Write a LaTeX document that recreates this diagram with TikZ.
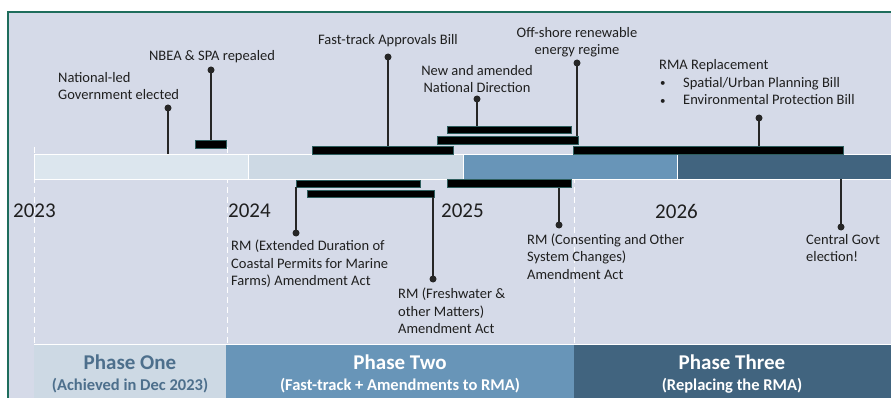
\documentclass[tikz,border=0pt]{standalone}
\usepackage{fontspec}
\setmainfont{Carlito}
\definecolor{paper}{HTML}{D5DAE8}
\definecolor{frame}{HTML}{1E6D5C}
\definecolor{segA}{HTML}{DCE6EE}
\definecolor{segB}{HTML}{CDD9E4}
\definecolor{segC}{HTML}{6895B8}
\definecolor{segD}{HTML}{41647F}
\definecolor{phaseink}{HTML}{4D6F8C}
\definecolor{stemc}{HTML}{262626}
\definecolor{barline}{HTML}{2E5E5E}
\definecolor{ink}{HTML}{1F1F1F}
\newcommand{\listdot}{\hspace*{1pt}\makebox[23pt][l]{\raisebox{0.5pt}{\fontsize{11}{11}\selectfont\textbullet}}}
\begin{document}
\begin{tikzpicture}[x=1pt,y=-1pt,
  seg/.style={draw=white, line width=0.8pt, inner sep=0, minimum height=25pt},
  bar/.style={draw=barline, fill=black, line width=0.6pt, inner sep=0},
  dot/.style={circle, fill=stemc, inner sep=0, minimum size=7pt},
  stem/.style={draw=stemc, line width=2pt},
  guide/.style={draw=white, line width=0.8pt, dash pattern=on 6pt off 4pt},
  lbl/.style={font=\fontsize{14.5}{17.5}\selectfont, text=ink, inner sep=0},
  year/.style={font=\fontsize{21}{24}\selectfont, text=ink, inner sep=0, anchor=west},
  phasebox/.style={inner sep=0, minimum height=53pt},
  phasetitle/.style={font=\bfseries\fontsize{21}{24}\selectfont, inner sep=0},
  phasesub/.style={font=\bfseries\fontsize{16.5}{19}\selectfont, inner sep=0}]

% page and frame
\useasboundingbox (0,0) rectangle (891,398);
\fill[white] (0,0) rectangle (891,398);
\fill[paper] (8,12) rectangle (891,398);
\draw[frame, line width=1.5pt] (8,398) -- (8,12) -- (891,12);

% year guides
\draw[guide] (34,147) -- (34,345);
\draw[guide] (227,147) -- (227,345);
\draw[guide] (574,147) -- (574,345);

% timeline band
\node[seg, fill=segA, minimum width=214pt] (seg1) at (141,166.5) {};
\node[seg, fill=segB, minimum width=215pt] (seg2) at (355.5,166.5) {};
\node[seg, fill=segC, minimum width=214pt] (seg3) at (570,166.5) {};
\node[seg, fill=segD, minimum width=214pt] (seg4) at (784,166.5) {};

% phase boxes
\node[phasebox, fill=segB, minimum width=192pt] (ph1) at (130,371.5) {};
\node[phasebox, fill=segC, minimum width=348pt] (ph2) at (400,371.5) {};
\node[phasebox, fill=segD, minimum width=317pt] (ph3) at (732.5,371.5) {};
\draw[white, line width=0.8pt] (ph1.north west) -- (ph3.north east);

\node[phasetitle, text=phaseink] (ph1t) at (130,362) {Phase One};
\node[phasesub, text=phaseink] (ph1s) at (130,385.5) {(Achieved in Dec 2023)};
\node[phasetitle, text=white] (ph2t) at (400,362) {Phase Two};
\node[phasesub, text=white] (ph2s) at (400,385.5) {(Fast-track + Amendments to RMA)};
\node[phasetitle, text=white] (ph3t) at (732,362) {Phase Three};
\node[phasesub, text=white] (ph3s) at (732,385.5) {(Replacing the RMA)};

% years
\node[year] (y23) at (13,211) {2023};
\node[year] (y24) at (228,211) {2024};
\node[year] (y25) at (441,211) {2025};
\node[year] (y26) at (655,211) {2026};

% duration bars above the band
\node[bar, minimum width=31pt, minimum height=8pt] (bNbea) at (210.5,144) {};
\node[bar, minimum width=141pt, minimum height=8pt] (bFast) at (382.5,150) {};
\node[bar, minimum width=124pt, minimum height=7pt] (bNat) at (509,129.5) {};
\node[bar, minimum width=141pt, minimum height=8pt] (bOff) at (507.5,140) {};
\node[bar, minimum width=270pt, minimum height=8pt] (bRma) at (708,150) {};

% duration bars below the band
\node[bar, minimum width=124pt, minimum height=7pt] (bCoast) at (358,183.5) {};
\node[bar, minimum width=127pt, minimum height=7pt] (bFresh) at (370.5,193.5) {};
\node[bar, minimum width=124pt, minimum height=8pt] (bCons) at (509,183.5) {};

% markers
\node[dot] (dGov) at (168,108) {};
\node[dot] (dNbea) at (211,70) {};
\node[dot] (dFast) at (388,57) {};
\node[dot] (dNat) at (477,99) {};
\node[dot] (dOff) at (577,63) {};
\node[dot] (dRma) at (759,118) {};
\node[dot] (dCoast) at (296,233) {};
\node[dot] (dFresh) at (433,279) {};
\node[dot] (dCons) at (559,225) {};
\node[dot] (dElec) at (841,227) {};

\draw[stem] (dGov.center) -- (dGov |- seg1.north);
\draw[stem] (dNbea.center) -- (dNbea |- bNbea.north);
\draw[stem] (dFast.center) -- (dFast |- bFast.north);
\draw[stem] (dNat.center) -- (dNat |- bNat.north);
\draw[stem] (dOff.center) -- (dOff |- bOff.north);
\draw[stem] (dRma.center) -- (dRma |- bRma.north);
\draw[stem] (dCoast.center) -- (dCoast |- bCoast.south);
\draw[stem] (dFresh.center) -- (dFresh |- bFresh.south);
\draw[stem] (dCons.center) -- (dCons |- bCons.south);
\draw[stem] (dElec.center) -- (dElec |- seg4.south);

% labels
\node[lbl, anchor=west, align=left] (tGov) at (58,86) {National-led\\Government elected};
\node[lbl] (tNbea) at (212,57) {NBEA \& SPA repealed};
\node[lbl] (tFast) at (388,41) {Fast-track Approvals Bill};
\node[lbl, align=center] (tNat) at (477,79) {New and amended\\National Direction};
\node[lbl, align=center] (tOff) at (577,42) {Off-shore renewable\\energy regime};
\node[lbl, anchor=west, align=left] (tRma) at (659,82.5)
  {RMA Replacement\\\listdot Spatial/Urban Planning Bill\\\listdot Environmental Protection Bill};
\node[lbl, anchor=west, align=left] (tCoast) at (231,264)
  {RM (Extended Duration of\\Coastal Permits for Marine\\Farms) Amendment Act};
\node[lbl, anchor=west, align=left] (tFresh) at (398,311)
  {RM (Freshwater \&\\other Matters)\\Amendment Act};
\node[lbl, anchor=west, align=left] (tCons) at (527,256.5)
  {RM (Consenting and Other\\System Changes)\\Amendment Act};
\node[lbl, anchor=west, align=left] (tElec) at (806,248) {Central Govt\\election!};
\end{tikzpicture}
\end{document}
